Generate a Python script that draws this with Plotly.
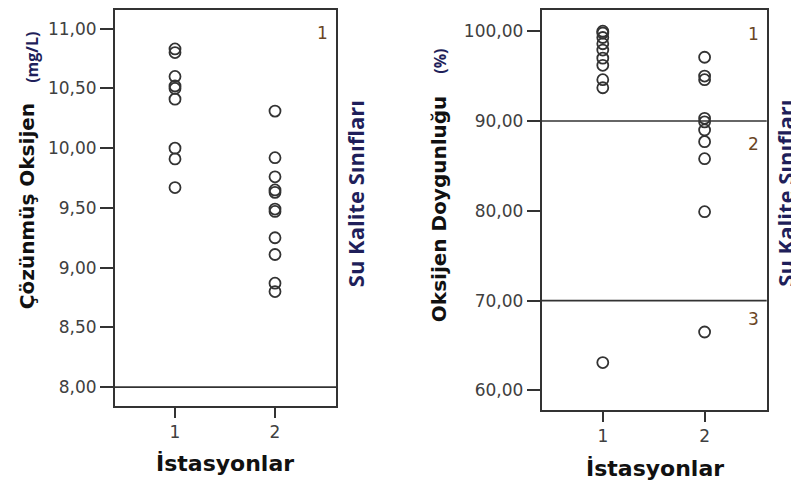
import plotly.graph_objects as go

# ---- data ----
stations = ["1", "2"]

do_st1 = [10.83, 10.80, 10.60, 10.52, 10.50, 10.41, 10.00, 9.91, 9.67]
do_st2 = [10.31, 9.92, 9.76, 9.65, 9.63, 9.49, 9.47, 9.25, 9.11, 8.87, 8.80]

sat_st1 = [100.0, 99.8, 99.3, 98.6, 97.9, 97.0, 96.2, 94.6, 93.7, 63.1]
sat_st2 = [97.1, 95.0, 94.6, 90.3, 89.9, 89.0, 87.7, 85.8, 79.9, 66.5]

do_class_limits = [8.0]
sat_class_limits = [90.0, 70.0]

do_ticks = [8.0, 8.5, 9.0, 9.5, 10.0, 10.5, 11.0]
do_ticktext = ["8,00", "8,50", "9,00", "9,50", "10,00", "10,50", "11,00"]
sat_ticks = [60, 70, 80, 90, 100]
sat_ticktext = ["60,00", "70,00", "80,00", "90,00", "100,00"]

do_class_labels = ["1"]
do_class_label_y = [10.96]
sat_class_labels = ["1", "2", "3"]
sat_class_label_y = [99.7, 87.4, 68.0]

# page is 799x481; the browser body has an 8px margin, so the figure is offset
OFF = 8
W, H = 799 - OFF, 481 - OFF
ink = "#333333"
navy = "#1f1f5a"
brown = "#6a4524"


def fx(xp):
    return (xp - OFF) / W


def fy(yp):
    return min(1.0, max(0.0, 1 - (yp - OFF) / H))


fig = go.Figure()

mk = dict(symbol="circle-open", size=11, color=ink, line=dict(width=1.8, color=ink))

fig.add_trace(go.Scatter(x=[1] * len(do_st1), y=do_st1, mode="markers", marker=mk,
                         xaxis="x", yaxis="y", showlegend=False))
fig.add_trace(go.Scatter(x=[2] * len(do_st2), y=do_st2, mode="markers", marker=mk,
                         xaxis="x", yaxis="y", showlegend=False))
fig.add_trace(go.Scatter(x=[1] * len(sat_st1), y=sat_st1, mode="markers", marker=mk,
                         xaxis="x2", yaxis="y2", showlegend=False))
fig.add_trace(go.Scatter(x=[2] * len(sat_st2), y=sat_st2, mode="markers", marker=mk,
                         xaxis="x2", yaxis="y2", showlegend=False))

tickfont = dict(family="DejaVu Sans", size=17, color="#404040")


def xax(domain, anchor):
    return dict(domain=domain, anchor=anchor, range=[0.4, 2.61], tickvals=[1, 2],
                ticktext=stations, ticks="outside", ticklen=10, tickwidth=2, tickcolor=ink,
                showline=True, linecolor=ink, linewidth=2, mirror=True,
                showgrid=False, zeroline=False, tickfont=tickfont)


def yax(domain, anchor, rng, tv, tt):
    return dict(domain=domain, anchor=anchor, range=rng, tickvals=tv, ticktext=tt,
                ticks="outside", ticklen=13, tickwidth=2, tickcolor=ink,
                showline=True, linecolor=ink, linewidth=2, mirror=True,
                showgrid=False, zeroline=False, tickfont=tickfont)


fig.update_layout(
    width=W, height=H, margin=dict(l=0, r=0, t=0, b=0),
    paper_bgcolor="white", plot_bgcolor="white",
    xaxis=xax([fx(115), fx(336)], "y"),
    yaxis=yax([fy(405.7), 1.0], "x", [7.842, 11.156], do_ticks, do_ticktext),
    xaxis2=xax([fx(541.7), fx(766.7)], "y2"),
    yaxis2=yax([fy(409.3), 1.0], "x2", [57.86, 102.36], sat_ticks, sat_ticktext),
)

shapes = []
for v in do_class_limits:
    shapes.append(dict(type="line", xref="x domain", yref="y", x0=0, x1=1, y0=v, y1=v,
                       line=dict(color=ink, width=1.6)))
for v in sat_class_limits:
    shapes.append(dict(type="line", xref="x2 domain", yref="y2", x0=0, x1=1, y0=v, y1=v,
                       line=dict(color=ink, width=1.6)))
fig.update_layout(shapes=shapes)

ann = []
for lab, yv in zip(do_class_labels, do_class_label_y):
    ann.append(dict(xref="x domain", yref="y", x=0.975, y=yv, text=lab, showarrow=False,
                    xanchor="right", yanchor="middle",
                    font=dict(family="DejaVu Sans", size=17, color=brown)))
for lab, yv in zip(sat_class_labels, sat_class_label_y):
    ann.append(dict(xref="x2 domain", yref="y2", x=0.975, y=yv, text=lab, showarrow=False,
                    xanchor="right", yanchor="middle",
                    font=dict(family="DejaVu Sans", size=17, color=brown)))


def rot(text, xp, yp, font):
    return dict(xref="paper", yref="paper", x=fx(xp), y=fy(yp), text=text, showarrow=False,
                textangle=-90, xanchor="center", yanchor="middle", font=font)


big = dict(family="DejaVu Sans", size=20, color="#111111", weight="bold")
unit = dict(family="Open Sans", size=16, color=navy, weight="bold")
cls = dict(family="Open Sans", size=22, color=navy, weight="bold")

ann.append(rot("Çözünmüş Oksijen", 27, 205, big))
ann.append(rot("(mg/L)", 32, 56, unit))
ann.append(rot("Su Kalite Sınıfları", 355, 193, cls))
ann.append(rot("Oksijen Doygunluğu", 439, 208, big))
ann.append(rot("(%)", 440, 60, unit))
ann.append(rot("Su Kalite Sınıfları", 785.5, 192, cls))

for xp, yp in [(225, 463), (655, 468)]:
    ann.append(dict(xref="paper", yref="paper", x=fx(xp), y=fy(yp), text="İstasyonlar",
                    showarrow=False, xanchor="center", yanchor="middle",
                    font=dict(family="DejaVu Sans", size=22, color="#111111", weight="bold")))

fig.update_layout(annotations=ann)

fig.write_html("out.html")
